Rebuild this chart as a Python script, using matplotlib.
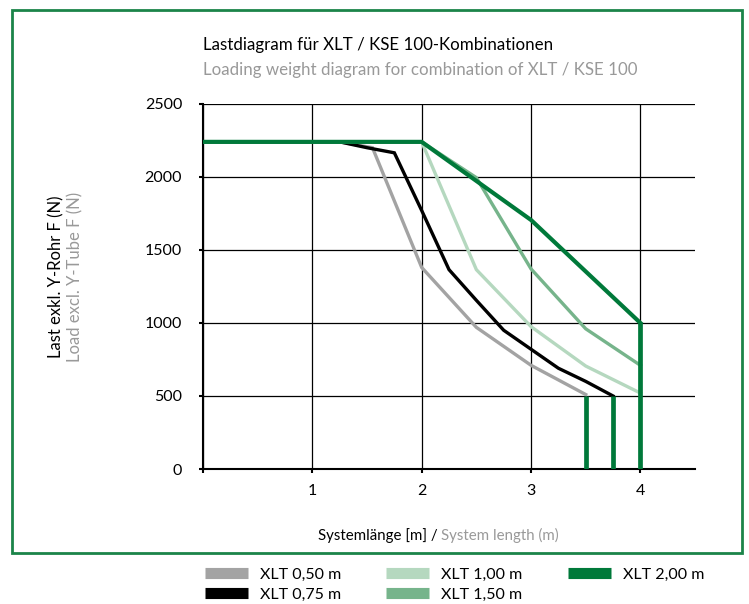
import matplotlib
matplotlib.use('Agg')
import matplotlib.pyplot as plt
from matplotlib.patches import Rectangle

plt.rcParams['font.family'] = ['Lato', 'DejaVu Sans']

# data
series_names = ['XLT 0,50 m', 'XLT 0,75 m', 'XLT 1,00 m', 'XLT 1,50 m', 'XLT 2,00 m']
x_050 = [0, 1.25, 1.55, 2.0, 2.5, 3.0, 3.5]
y_050 = [2240, 2240, 2200, 1380, 970, 710, 510]
x_075 = [0, 1.25, 1.5, 1.75, 2.0, 2.25, 2.5, 2.75, 3.0, 3.25, 3.5, 3.75]
y_075 = [2240, 2240, 2200, 2165, 1770, 1365, 1155, 950, 820, 690, 600, 500]
x_100 = [0, 2.0, 2.5, 3.0, 3.5, 4.0]
y_100 = [2240, 2240, 1365, 975, 705, 520]
x_150 = [0, 2.0, 2.5, 3.0, 3.5, 4.0]
y_150 = [2240, 2240, 1995, 1370, 960, 710]
x_200 = [0, 2.0, 3.0, 4.0]
y_200 = [2240, 2240, 1705, 1000]
# end of usable length (vertical cut-off lines)
cut_x = [3.5, 3.75, 4.0]
cut_y = [500, 500, 1000]

colors = ['#a3a3a3', '#000000', '#b5d8bf', '#76b48b', '#00793a']
widths = [2.4, 2.4, 2.4, 2.4, 3.0]
xs = [x_050, x_075, x_100, x_150, x_200]
ys = [y_050, y_075, y_100, y_150, y_200]

fig = plt.figure(figsize=(7.49, 6.04), dpi=100)
ax = fig.add_axes([0.271, 0.2235, 0.657, 0.6045])

lines = []
for x, y, c, w, n in zip(xs, ys, colors, widths, series_names):
    l, = ax.plot(x, y, color=c, lw=w, label=n, solid_joinstyle='miter', zorder=3)
    lines.append(l)
for cx, cy in zip(cut_x, cut_y):
    ax.plot([cx, cx], [cy, 0], color=colors[4], lw=3.4, zorder=4, solid_capstyle='butt')

ax.set_xlim(0, 4.5)
ax.set_ylim(0, 2500)
ax.set_xticks([0, 1, 2, 3, 4])
ax.set_xticklabels(['', '1', '2', '3', '4'])
ax.set_yticks([0, 500, 1000, 1500, 2000, 2500])
ax.tick_params(labelsize=11.5, length=3, width=1.5, color='black')
ax.tick_params(axis='y', pad=12)
ax.tick_params(axis='x', pad=8)
ax.grid(True, color='black', lw=0.9, zorder=1)
ax.spines['right'].set_visible(False)
ax.spines['top'].set_visible(False)
ax.spines['left'].set_linewidth(1.5)
ax.spines['bottom'].set_linewidth(1.5)

# titles
fig.text(0.271, 0.925, 'Lastdiagram für XLT / KSE 100-Kombinationen', fontsize=12.2,
         color='black', va='center', ha='left')
fig.text(0.271, 0.884, 'Loading weight diagram for combination of XLT / KSE 100', fontsize=12.2,
         color='#999999', va='center', ha='left')

# axis labels
fig.text(0.075, 0.541, 'Last exkl. Y-Rohr F (N)', rotation=90, fontsize=12,
         color='black', va='center', ha='center')
fig.text(0.101, 0.541, 'Load excl. Y-Tube F (N)', rotation=90, fontsize=12,
         color='#999999', va='center', ha='center')
fig.text(0.589, 0.114, 'Systemlänge [m] / ', fontsize=10.8, color='black', va='center', ha='right')
fig.text(0.589, 0.114, 'System length (m)', fontsize=10.8, color='#999999', va='center', ha='left')

# green frame
fig.patches.append(Rectangle((0.016, 0.0844), 0.9746, 0.899, transform=fig.transFigure,
                             fill=False, edgecolor='#1b8449', lw=2))

# legend below the frame, one legend per column
columns = [(0.274, [0, 1]), (0.515, [2, 3]), (0.758, [4])]
for xpos, idx in columns:
    leg = fig.legend([lines[i] for i in idx], [series_names[i] for i in idx],
                     loc='upper left', bbox_to_anchor=(xpos, 0.06), frameon=False,
                     fontsize=11.5, handlelength=2.7, handletextpad=0.75,
                     labelspacing=0.35, borderpad=0, borderaxespad=0)
    for h in leg.legend_handles:
        h.set_linewidth(8)
        h.set_solid_capstyle('butt')

fig.savefig('out.png', dpi=100)
